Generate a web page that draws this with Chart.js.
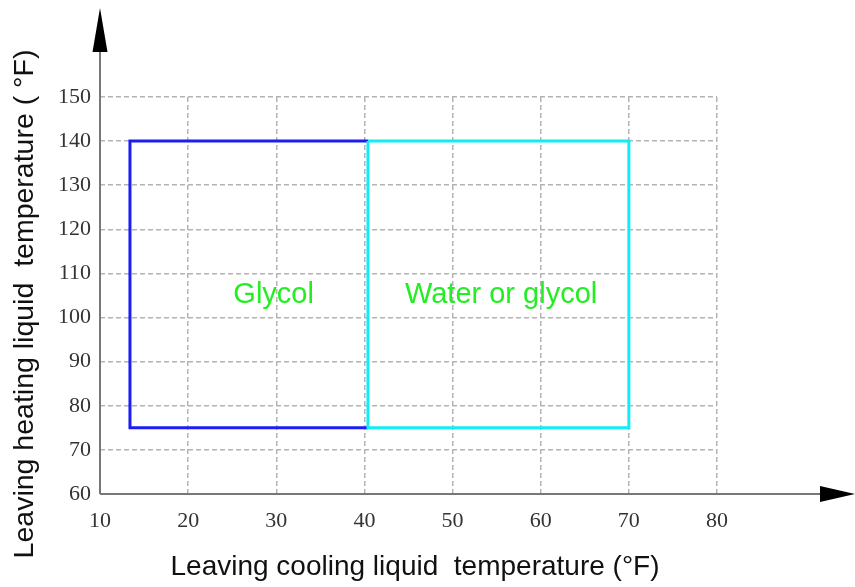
<!DOCTYPE html>
<html>
<head>
<meta charset="utf-8">
<script src="https://cdn.jsdelivr.net/npm/chart.js@4.4.1/dist/chart.umd.min.js"></script>
<style>
  html, body { margin: 0; padding: 0; background: #ffffff; }
  #wrap { width: 855px; height: 587px; position: relative; }
</style>
</head>
<body>
<div id="wrap"><canvas id="c" width="855" height="587"></canvas></div>
<script>
// ---- data ----
const xTickValues = [10, 20, 30, 40, 50, 60, 70, 80];
const yTickValues = [60, 70, 80, 90, 100, 110, 120, 130, 140, 150];

const glycolX = [40.4, 13.4, 13.4, 40.4];
const glycolY = [140, 140, 75, 75];

const waterX = [40.4, 70, 70, 40.4, 40.4];
const waterY = [140, 140, 75, 75, 140];

const regionNames = ['Glycol', 'Water or glycol'];
const regionLabelX = [29.7, 55.5];
const regionLabelY = [105.2, 105.2];

const xTitle = 'Leaving cooling liquid  temperature (°F)';
const yTitle = 'Leaving heating liquid  temperature ( °F)';

const toPoints = (xs, ys) => xs.map((x, i) => ({ x: x, y: ys[i] }));

const decorPlugin = {
  id: 'decor',
  afterDatasetsDraw(chart) {
    const ctx = chart.ctx;
    const xs = chart.scales.x, ys = chart.scales.y;
    const x0 = xs.getPixelForValue(xTickValues[0]);
    const y0 = ys.getPixelForValue(yTickValues[0]);
    ctx.save();
    // axis lines
    ctx.strokeStyle = '#777777';
    ctx.lineWidth = 2;
    ctx.setLineDash([]);
    ctx.beginPath();
    ctx.moveTo(x0, y0);
    ctx.lineTo(x0, 50);
    ctx.moveTo(x0, y0);
    ctx.lineTo(822, y0);
    ctx.stroke();
    // arrows
    ctx.fillStyle = '#000000';
    ctx.beginPath();
    ctx.moveTo(x0, 8);
    ctx.lineTo(x0 - 7.5, 52);
    ctx.lineTo(x0 + 7.5, 52);
    ctx.closePath();
    ctx.fill();
    ctx.beginPath();
    ctx.moveTo(855, y0);
    ctx.lineTo(820, y0 - 8);
    ctx.lineTo(820, y0 + 8);
    ctx.closePath();
    ctx.fill();
    // region labels
    ctx.fillStyle = '#22ee22';
    ctx.font = '29px "Liberation Sans", Arial, sans-serif';
    ctx.textAlign = 'center';
    ctx.textBaseline = 'middle';
    regionNames.forEach((n, i) => {
      ctx.fillText(n, xs.getPixelForValue(regionLabelX[i]), ys.getPixelForValue(regionLabelY[i]));
    });
    // axis titles
    ctx.fillStyle = '#111111';
    ctx.font = '28px "Liberation Sans", Arial, sans-serif';
    ctx.textBaseline = 'alphabetic';
    ctx.textAlign = 'center';
    ctx.fillText(xTitle, 415, 575);
    ctx.font = '28.5px "Liberation Sans", Arial, sans-serif';
    ctx.translate(33, 304);
    ctx.rotate(-Math.PI / 2);
    ctx.fillText(yTitle, 0, 0);
    ctx.restore();
  }
};

new Chart(document.getElementById('c'), {
  type: 'scatter',
  data: {
    datasets: [
      {
        label: 'Glycol',
        data: toPoints(glycolX, glycolY),
        showLine: true,
        borderColor: '#1c1cf5',
        borderWidth: 3,
        pointRadius: 0,
        fill: false,
        tension: 0,
        order: 2
      },
      {
        label: 'Water or glycol',
        data: toPoints(waterX, waterY),
        showLine: true,
        borderColor: '#12ecf8',
        borderWidth: 3,
        pointRadius: 0,
        fill: false,
        tension: 0,
        order: 1
      }
    ]
  },
  options: {
    responsive: false,
    animation: false,
    layout: { padding: { top: 97, right: 138, left: 0, bottom: 0 } },
    plugins: { legend: { display: false }, tooltip: { enabled: false } },
    scales: {
      x: {
        type: 'linear',
        min: xTickValues[0],
        max: xTickValues[xTickValues.length - 1],
        afterFit(scale) { scale.height = 93; },
        afterBuildTicks(scale) { scale.ticks = xTickValues.map(v => ({ value: v })); },
        ticks: {
          padding: 14,
          color: '#333333',
          font: { family: '"Liberation Serif", "Times New Roman", serif', size: 22 },
          callback: v => String(v),
          maxRotation: 0
        },
        grid: { color: '#b4b4b4', lineWidth: 1.5, drawTicks: false },
        border: { display: false, dash: [5, 3] }
      },
      y: {
        type: 'linear',
        min: yTickValues[0],
        max: yTickValues[yTickValues.length - 1],
        afterFit(scale) { scale.width = 100; },
        afterBuildTicks(scale) { scale.ticks = yTickValues.map(v => ({ value: v })); },
        ticks: {
          padding: 9,
          color: '#333333',
          font: { family: '"Liberation Serif", "Times New Roman", serif', size: 22 },
          callback: v => String(v)
        },
        grid: { color: '#b4b4b4', lineWidth: 1.5, drawTicks: false },
        border: { display: false, dash: [5, 3] }
      }
    }
  },
  plugins: [decorPlugin]
});
</script>
</body>
</html>
